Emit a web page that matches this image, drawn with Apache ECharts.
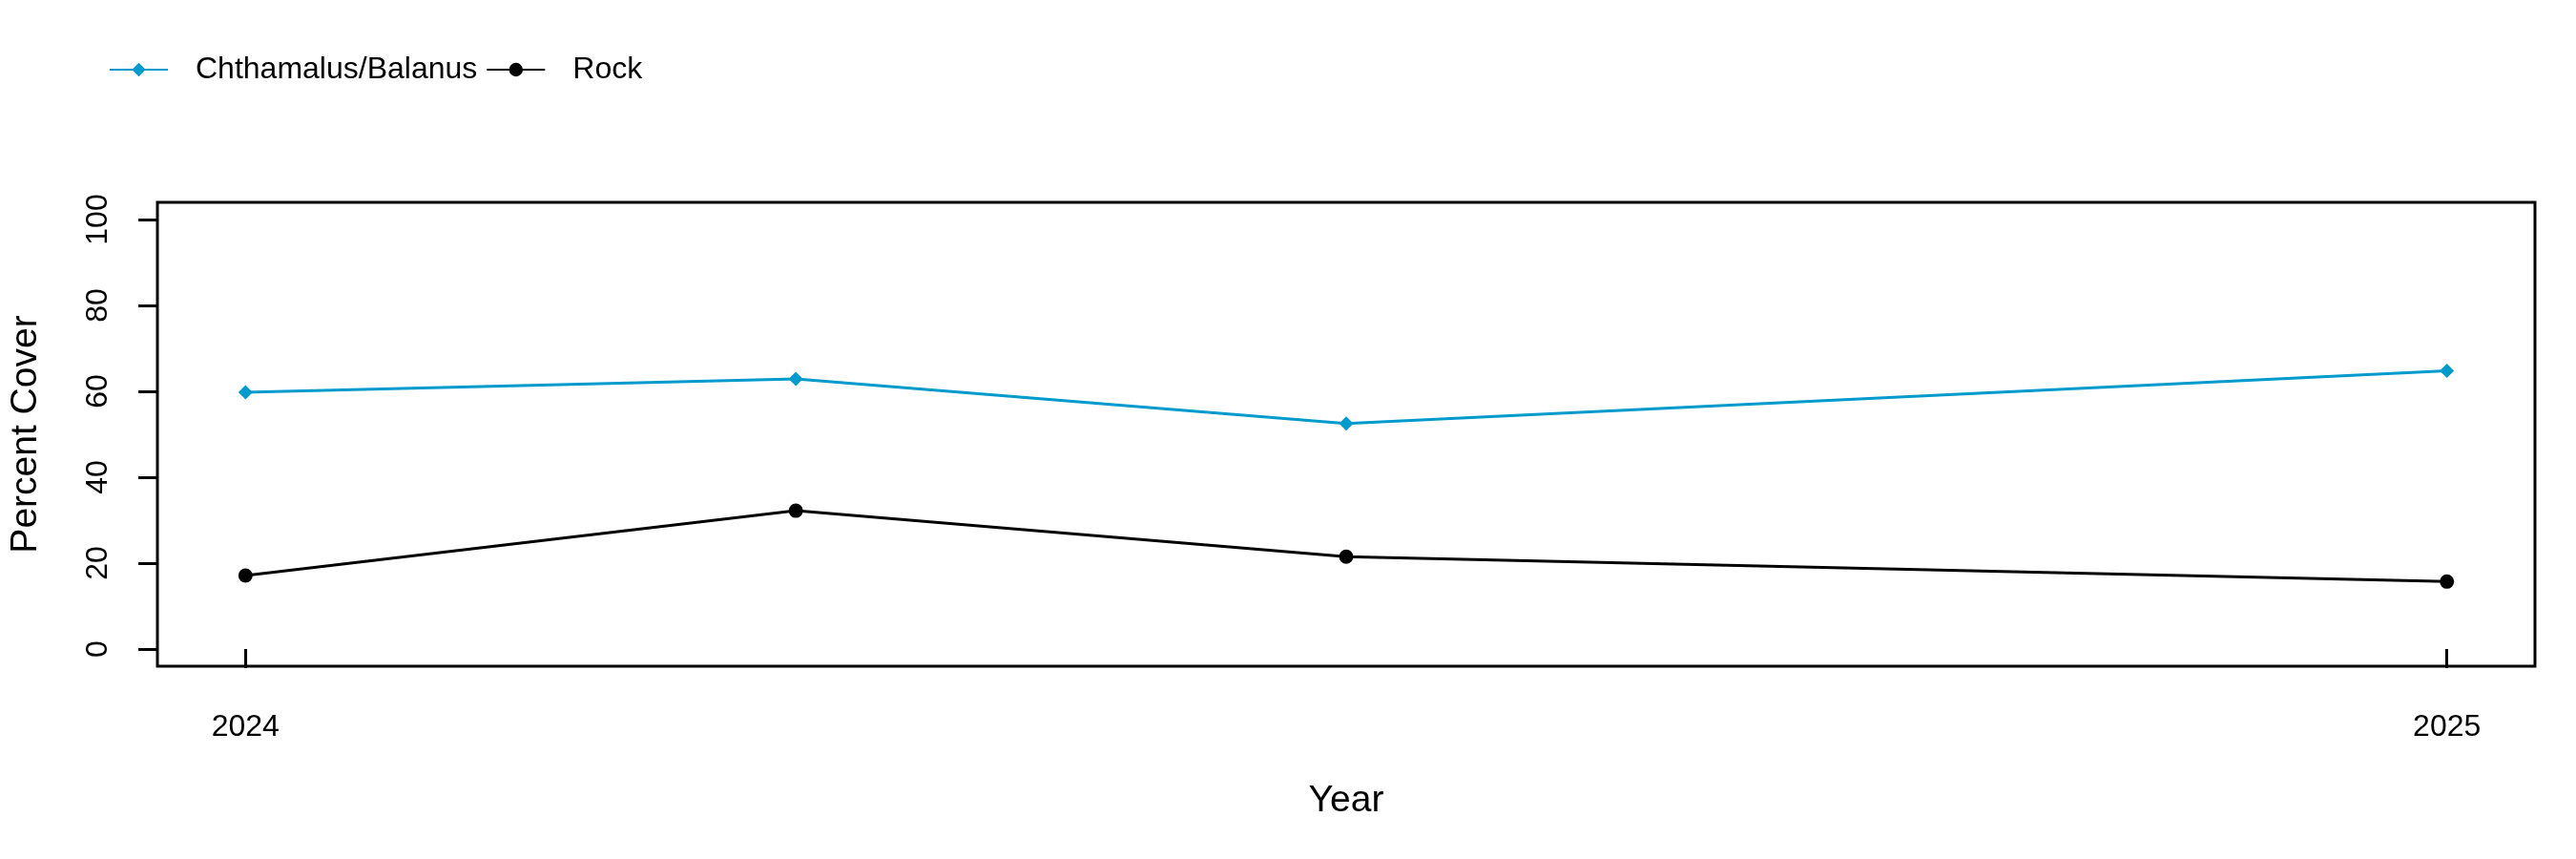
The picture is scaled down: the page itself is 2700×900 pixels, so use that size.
<!DOCTYPE html>
<html>
<head>
<meta charset="utf-8">
<script src="https://cdn.jsdelivr.net/npm/echarts@6/dist/echarts.min.js"></script>
<style>
html,body{margin:0;padding:0;background:#fff;}
#chart{width:2700px;height:900px;}
</style>
</head>
<body>
<div id="chart"></div>
<script>
// Sampling dates (fractional years) and values
var sampleYears = [2024, 2024.25, 2024.5, 2025];
var chthamalusBalanus = [59.8, 62.9, 52.5, 64.8];
var rock = [17.1, 32.2, 21.5, 15.7];
var xTickValues = [2024, 2025];
var yTickValues = [0, 20, 40, 60, 80, 100];

function pairs(xs, ys) { return xs.map(function (x, i) { return [x, ys[i]]; }); }

var font = 'Liberation Sans, Arial, sans-serif';
var chart = echarts.init(document.getElementById('chart'), null, {renderer: 'canvas'});
chart.setOption({
  animation: false,
  backgroundColor: '#ffffff',
  legend: {
    left: 109, top: 52,
    itemWidth: 61, itemHeight: 18, itemGap: 9,
    textStyle: {fontFamily: font, fontSize: 32, color: '#000', padding: [0, 0, 0, 24]},
    data: ['Chthamalus/Balanus', 'Rock']
  },
  grid: {
    left: 162, right: 43, top: 212, bottom: 202,
    show: true, borderColor: '#000', borderWidth: 3, backgroundColor: 'transparent'
  },
  xAxis: {
    type: 'value', min: 2023.96, max: 2025.04,
    name: 'Year', nameLocation: 'middle', nameGap: 122,
    nameTextStyle: {fontFamily: font, fontSize: 39, color: '#000'},
    axisLine: {show: false},
    axisTick: {show: true, length: 20, lineStyle: {color: '#000', width: 3}, customValues: xTickValues},
    axisLabel: {show: true, margin: 48, fontFamily: font, fontSize: 32, color: '#000',
      customValues: xTickValues, formatter: function (v) { return String(Math.round(v)); }},
    splitLine: {show: false}
  },
  yAxis: {
    type: 'value', min: -4, max: 104,
    name: 'Percent Cover', nameLocation: 'middle', nameGap: 118,
    nameTextStyle: {fontFamily: font, fontSize: 39, color: '#000'},
    axisLine: {show: false},
    axisTick: {show: true, length: 20, lineStyle: {color: '#000', width: 3}, customValues: yTickValues},
    axisLabel: {show: true, rotate: 90, margin: 46, fontFamily: font, fontSize: 32, color: '#000',
      customValues: yTickValues},
    splitLine: {show: false}
  },
  series: [
    {
      name: 'Chthamalus/Balanus', type: 'line',
      data: pairs(sampleYears, chthamalusBalanus),
      symbol: 'diamond', symbolSize: 15,
      lineStyle: {color: '#009ACD', width: 3},
      itemStyle: {color: '#009ACD'}
    },
    {
      name: 'Rock', type: 'line',
      data: pairs(sampleYears, rock),
      symbol: 'circle', symbolSize: 15,
      lineStyle: {color: '#000000', width: 3},
      itemStyle: {color: '#000000'}
    }
  ]
});
</script>
</body>
</html>
